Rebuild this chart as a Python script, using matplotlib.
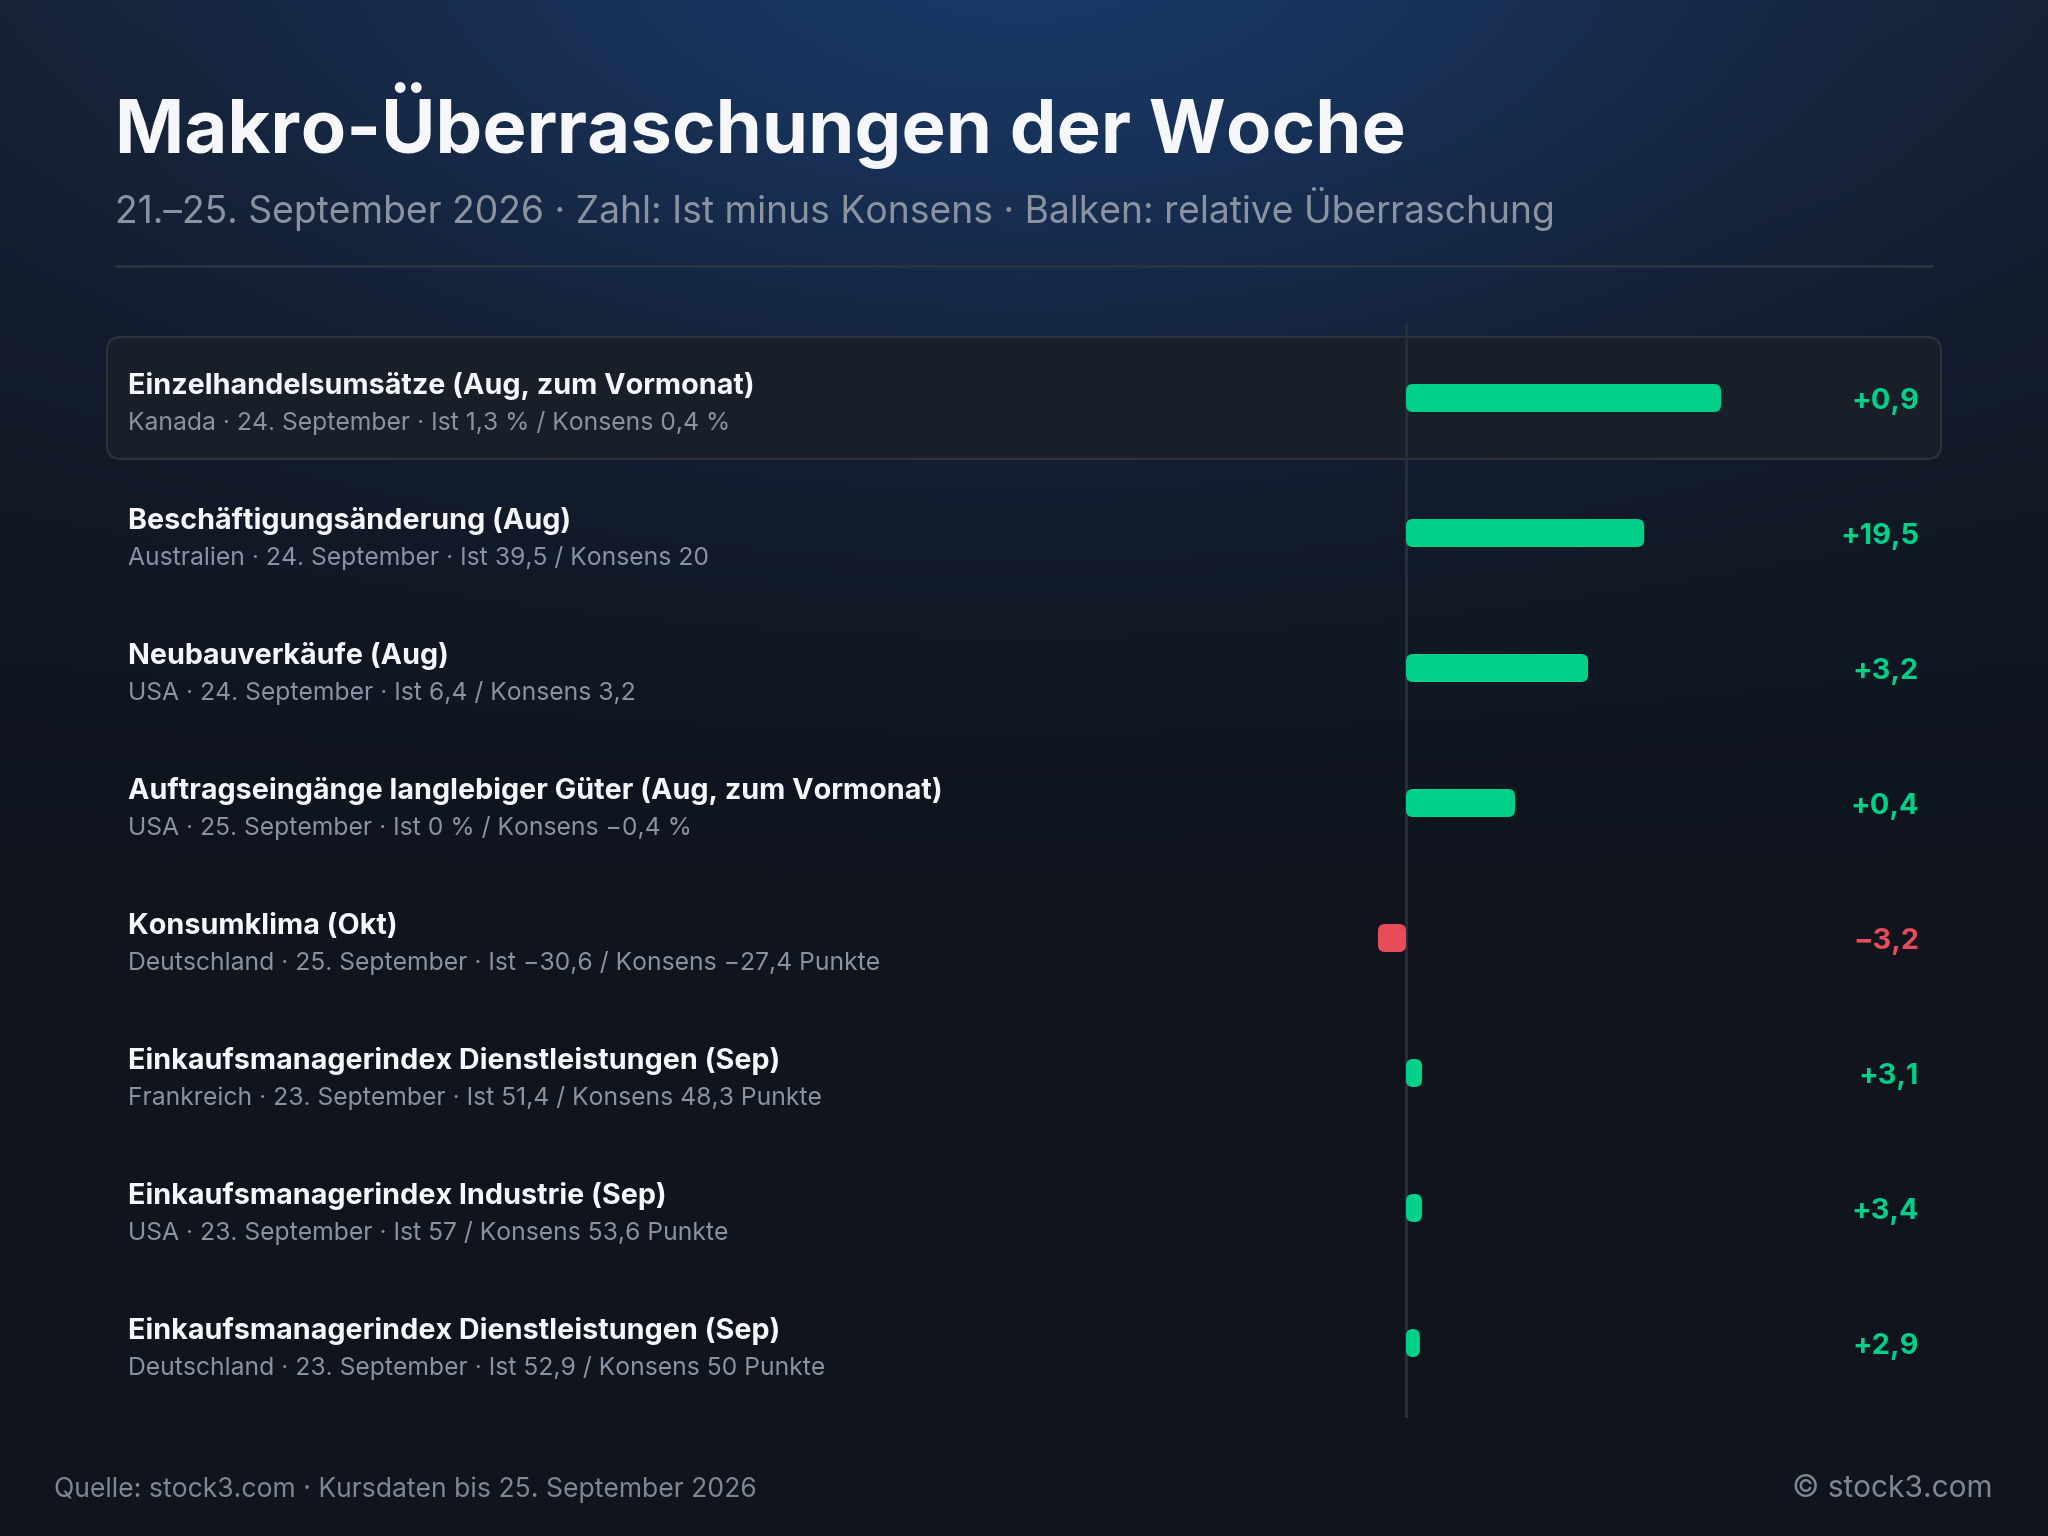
import numpy as np
import matplotlib
matplotlib.use("Agg")
import matplotlib.pyplot as plt
from matplotlib.patches import FancyBboxPatch
from matplotlib.colors import to_rgb

plt.rcParams['font.family'] = ['Inter', 'DejaVu Sans']

# --- data ---
titles = [
    "Einzelhandelsumsätze (Aug, zum Vormonat)",
    "Beschäftigungsänderung (Aug)",
    "Neubauverkäufe (Aug)",
    "Auftragseingänge langlebiger Güter (Aug, zum Vormonat)",
    "Konsumklima (Okt)",
    "Einkaufsmanagerindex Dienstleistungen (Sep)",
    "Einkaufsmanagerindex Industrie (Sep)",
    "Einkaufsmanagerindex Dienstleistungen (Sep)",
]
countries = ["Kanada", "Australien", "USA", "USA", "Deutschland",
             "Frankreich", "USA", "Deutschland"]
dates = ["24. September", "24. September", "24. September", "25. September",
         "25. September", "23. September", "23. September", "23. September"]
ist = ["1,3 %", "39,5", "6,4", "0 %", "−30,6", "51,4", "57", "52,9"]
konsens = ["0,4 %", "20", "3,2", "−0,4 %", "−27,4 Punkte", "48,3 Punkte",
           "53,6 Punkte", "50 Punkte"]
diff = [0.9, 19.5, 3.2, 0.4, -3.2, 3.1, 3.4, 2.9]
# relative surprise, longest bar = 100
rel = [100, 75.6, 57.8, 34.6, -8.9, 5.1, 5.1, 4.4]

GREEN = "#00d188"
RED = "#e84c5a"


def fmt(v):
    s = f"{abs(v):.1f}".replace(".", ",")
    return ("+" if v >= 0 else "−") + s


W, H = 2048, 1536
fig = plt.figure(figsize=(W / 100, H / 100), dpi=100)

# background with a soft glow at the top
bg = fig.add_axes([0, 0, 1, 1])
bg.set_xlim(0, W)
bg.set_ylim(H, 0)
bg.axis("off")
yy, xx = np.mgrid[0:H, 0:W]
top = np.array(to_rgb("#151d2d"))
bot = np.array(to_rgb("#0f141d"))
t = np.clip(yy / 900, 0, 1)[..., None]
img = top * (1 - t) + bot * t
glow = np.exp(-(((xx - 1024) / 800) ** 2 + ((yy + 60) / 420) ** 2))[..., None]
img = img * (1 - glow) + np.array(to_rgb("#193866")) * glow
bg.imshow(img, extent=(0, W, H, 0), aspect="auto", zorder=0)

# header
bg.text(115, 153, "Makro-Überraschungen der Woche", color="#f5f7fb",
        fontsize=53.5, fontweight="bold", va="baseline", ha="left")
bg.text(115, 223, "21.–25. September 2026 · Zahl: Ist minus Konsens · Balken: relative Überraschung",
        color="#8b93a1", fontsize=26.8, va="baseline", ha="left")
bg.plot([115, 1933], [266, 266], color="#2b3341", lw=2, solid_capstyle="butt")

# rows
row0, step = 398, 135
hl = FancyBboxPatch((107, row0 - 61), 1834, 122,
                    boxstyle="round,pad=0,rounding_size=14",
                    fc="#191f28", ec="#2d333d", lw=1.5, zorder=1)
bg.add_patch(hl)

for i in range(len(titles)):
    yc = row0 + step * i
    bg.text(128, yc - 4, titles[i], color="#f5f7fb", fontsize=20.7,
            fontweight="bold", va="baseline", ha="left", zorder=3)
    sub = f"{countries[i]} · {dates[i]} · Ist {ist[i]} / Konsens {konsens[i]}"
    bg.text(128, yc + 32, sub, color="#8a93a3", fontsize=17.8,
            va="baseline", ha="left", zorder=3)
    bg.text(1919, yc + 11, fmt(diff[i]), color=GREEN if diff[i] >= 0 else RED,
            fontsize=20.8, fontweight="bold", va="baseline", ha="right", zorder=3)

# footer
bg.text(54, 1497, "Quelle: stock3.com · Kursdaten bis 25. September 2026",
        color="#7f8795", fontsize=19.1, va="baseline", ha="left")
bg.text(1993, 1497, "© stock3.com", color="#7f8795", fontsize=21.5,
        va="baseline", ha="right")

# bar axes: x in relative units, y in rows
px_per_unit = 315 / 100
ax_left, ax_right = 1300, 1800
zero_px = 1406
ax_top, ax_bot = 323, 1418
ax = fig.add_axes([ax_left / W, 1 - ax_bot / H, (ax_right - ax_left) / W,
                   (ax_bot - ax_top) / H])
ax.patch.set_alpha(0)
ax.axis("off")
ax.set_xlim(-(zero_px - ax_left) / px_per_unit, (ax_right - zero_px) / px_per_unit)
ax.set_ylim((ax_bot - row0) / step, (ax_top - row0) / step)
ax.axvline(0, color="#2a303b", lw=2, zorder=1)

bar_h = 28 / step
aspect = (1 / step) / (1 / px_per_unit)
for i, v in enumerate(rel):
    x0 = min(0, v)
    w = abs(v)
    r = min(7, abs(v) * px_per_unit / 2) / px_per_unit
    p = FancyBboxPatch((x0, i - bar_h / 2), w, bar_h,
                       boxstyle=f"round,pad=0,rounding_size={r}",
                       mutation_aspect=aspect,
                       fc=GREEN if v >= 0 else RED, ec="none", zorder=2)
    ax.add_patch(p)

fig.savefig("out.png", dpi=100)
